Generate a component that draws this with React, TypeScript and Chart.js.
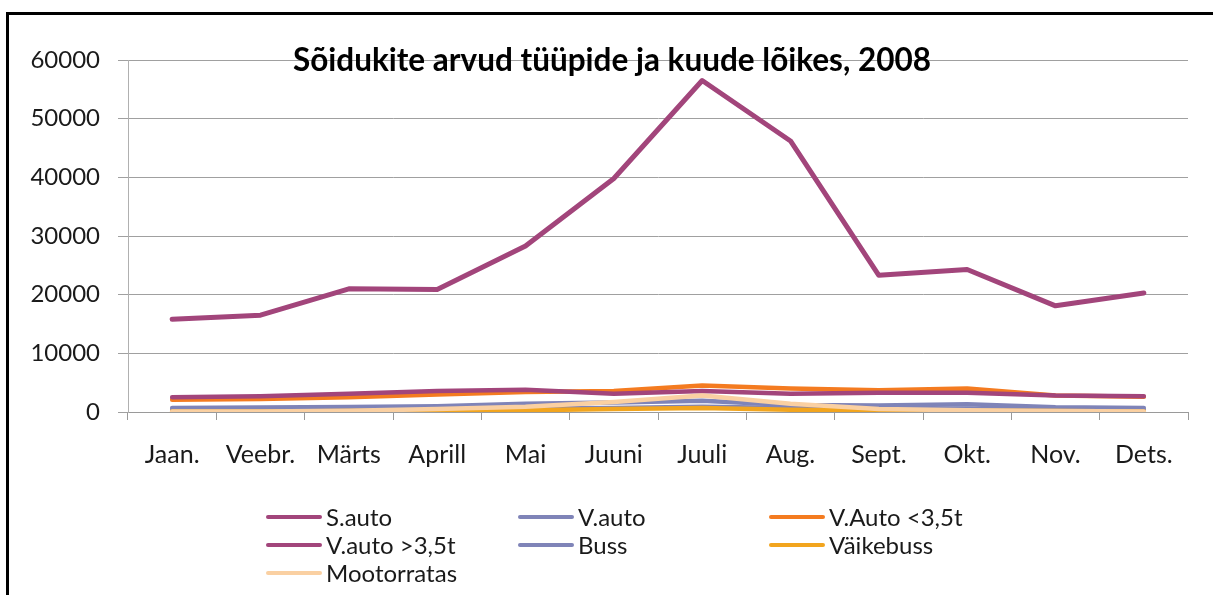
import React, { useEffect, useRef } from "react";
import { Chart, registerables } from "chart.js";

Chart.register(...registerables);

const categories = ["Jaan.", "Veebr.", "Märts", "Aprill", "Mai", "Juuni", "Juuli", "Aug.", "Sept.", "Okt.", "Nov.", "Dets."];
const yTicks = [0, 10000, 20000, 30000, 40000, 50000, 60000];

const seriesNames = ["S.auto", "V.auto", "V.Auto <3,5t", "V.auto >3,5t", "Buss", "Väikebuss", "Mootorratas"];
const sAuto = [15800, 16500, 21000, 20900, 28300, 39800, 56500, 46200, 23300, 24300, 18100, 20300];
const vAuto = [700, 750, 850, 1000, 1400, 1600, 1900, 1200, 1100, 1300, 800, 700];
const vAutoAlla = [2100, 2200, 2500, 3000, 3400, 3600, 4500, 4000, 3700, 4000, 2800, 2600];
const vAutoYle = [2500, 2700, 3100, 3600, 3800, 3100, 3600, 3100, 3300, 3300, 2800, 2700];
const buss = [400, 400, 450, 500, 600, 700, 900, 700, 600, 550, 450, 400];
const vaikebuss = [100, 100, 150, 200, 300, 500, 700, 400, 250, 200, 150, 100];
const mootorratas = [100, 100, 200, 500, 900, 1700, 2800, 1400, 500, 300, 150, 100];

const seriesValues = [sAuto, vAuto, vAutoAlla, vAutoYle, buss, vaikebuss, mootorratas];
const seriesColors = ["#A2457B", "#7F84B8", "#F47B20", "#A2457B", "#7F84B8", "#F2A51E", "#FAD0A2"];

const FONT = "Lato, 'Open Sans', sans-serif";

export default function App() {
  const ref = useRef<HTMLCanvasElement | null>(null);

  useEffect(() => {
    document.body.style.margin = "0";
    if (!ref.current) return;
    const chart = new Chart(ref.current, {
      type: "line",
      data: {
        labels: categories,
        datasets: seriesNames.map((name, i) => ({
          label: name,
          data: seriesValues[i],
          borderColor: seriesColors[i],
          backgroundColor: seriesColors[i],
          borderWidth: i === 0 ? 5 : 4.5,
          pointRadius: 0,
          tension: 0,
          borderCapStyle: "round" as const,
          borderJoinStyle: "round" as const,
          order: seriesNames.length - i,
        })),
      },
      options: {
        animation: false,
        responsive: false,
        layout: { padding: { left: 0, right: 25, top: 60, bottom: 0 } },
        plugins: {
          legend: { display: false },
          title: { display: false },
          tooltip: { enabled: false },
        },
        scales: {
          x: {
            offset: true,
            grid: {
              offset: true,
              drawOnChartArea: false,
              drawTicks: true,
              tickLength: 8,
              color: "#9a9a9a",
            },
            border: { color: "#9a9a9a", width: 1 },
            ticks: {
              autoSkip: false,
              maxRotation: 0,
              padding: 20,
              color: "#1a1a1a",
              font: { family: FONT, size: 25 },
            },
            afterFit: (s: any) => {
              s.height = 183;
            },
          },
          y: {
            min: 0,
            max: 60000,
            afterBuildTicks: (s: any) => {
              s.ticks = yTicks.map((v) => ({ value: v }));
            },
            grid: {
              color: "#a0a0a0",
              lineWidth: 1,
              tickLength: 10,
            },
            border: { color: "#b0b0b0", width: 1 },
            ticks: {
              padding: 18,
              color: "#1a1a1a",
              font: { family: FONT, size: 24 },
              callback: (v: any) => String(v),
            },
            afterFit: (s: any) => {
              s.width = 128;
            },
          },
        },
      },
    });
    return () => chart.destroy();
  }, []);

  const colLeft = [266, 518, 769];
  const rowTop = [517, 545, 573];

  return (
    <div style={{ position: "relative", width: 1213, height: 595, background: "#fff", overflow: "hidden" }}>
      <canvas ref={ref} width={1213} height={595} style={{ position: "absolute", left: 0, top: 0 }} />
      <div
        style={{
          position: "absolute",
          left: 6,
          top: 12,
          width: 1207,
          height: 583,
          borderTop: "3px solid #000",
          borderLeft: "3px solid #000",
          boxSizing: "border-box",
          pointerEvents: "none",
        }}
      />
      <div
        style={{
          position: "absolute",
          left: 0,
          width: 1224,
          top: 60,
          transform: "translateY(-50%)",
          textAlign: "center",
          fontFamily: FONT,
          fontWeight: 700,
          fontSize: 31.5,
          color: "#000",
          lineHeight: 1,
        }}
      >
        Sõidukite arvud tüüpide ja kuude lõikes, 2008
      </div>
      {seriesNames.map((name, i) => {
        const col = i % 3;
        const row = Math.floor(i / 3);
        return (
          <div
            key={name}
            style={{
              position: "absolute",
              left: colLeft[col],
              top: rowTop[row],
              transform: "translateY(-50%)",
              display: "flex",
              alignItems: "center",
              fontFamily: FONT,
              fontSize: 24,
              color: "#1a1a1a",
              whiteSpace: "nowrap",
              lineHeight: 1,
            }}
          >
            <span
              style={{
                display: "inline-block",
                width: 56,
                height: 4,
                borderRadius: 2,
                background: seriesColors[i],
                marginRight: 4,
              }}
            />
            <span>{name}</span>
          </div>
        );
      })}
    </div>
  );
}
